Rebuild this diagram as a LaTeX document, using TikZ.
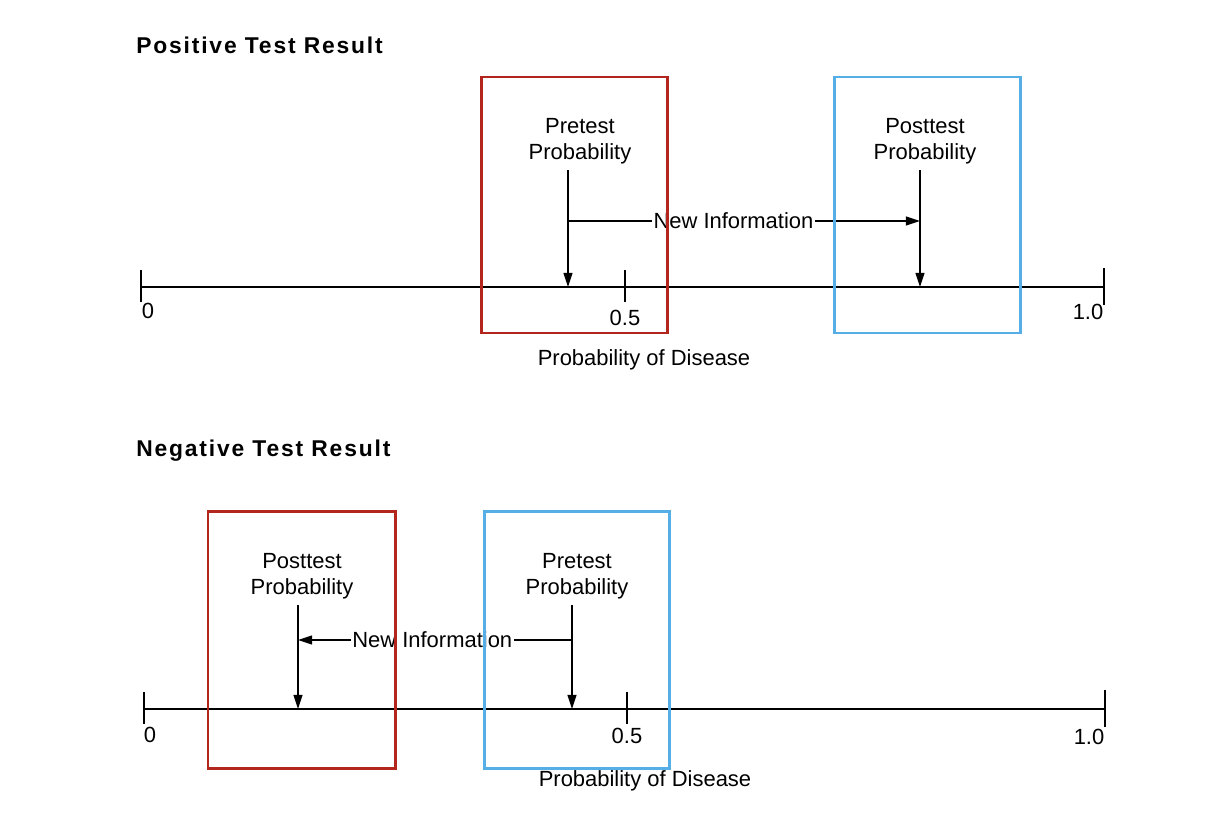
\documentclass[tikz,border=0pt]{standalone}
\usepackage{xcolor}
\usepackage{fontspec}
\setmainfont{Liberation Sans}
\newfontfamily\titlefont[LetterSpace=8]{Liberation Sans}
\usepackage{tikz}
\usetikzlibrary{arrows.meta,positioning,calc}
\definecolor{boxred}{RGB}{178,38,30}
\definecolor{boxblue}{RGB}{86,174,230}
\tikzset{
axis/.style={line width=1.1pt},
tick/.style={line width=1.3pt},
ptr/.style={line width=1pt,-{Triangle[length=8pt,width=5pt]}},
lbl/.style={align=center,font=\fontsize{12.5}{15}\selectfont,inner sep=0pt},
heading/.style={anchor=west,inner sep=0pt,font=\titlefont\bfseries\fontsize{13}{15}\selectfont},
frame/.style={line width=1.7pt}
}
\begin{document}
\begin{tikzpicture}[x=0.02cm,y=-0.02cm]
\useasboundingbox (0,0) rectangle (1226,838);

% positive test
\node[heading] (T1) at (136,45) {Positive Test Result};
\coordinate (O1) at (141,287);
\coordinate (M1) at (625,287);
\coordinate (E1) at (1104,287);
\draw[axis] (O1) -- (E1);
\draw[tick] (O1) ++(0,-17) -- ++(0,32);
\draw[tick] (M1) ++(0,-17) -- ++(0,32);
\draw[tick] (E1) ++(0,-19) -- ++(0,37);
\node[lbl] (zero1) at (148,311) {0};
\node[lbl] (half1) at (625,318) {0.5};
\node[lbl] (one1) at (1088,312) {1.0};
\node[lbl] (xl1) at (644,360) {Probability of Disease};

\node[lbl] (pretxt1) at (580,141) {Pretest\\Probability};
\node[lbl] (posttxt1) at (925,141) {Posttest\\Probability};
\coordinate (pre1) at (568,287);
\coordinate (post1) at (920,287);
\coordinate (pretop1) at (568,170);
\coordinate (posttop1) at (920,170);
\coordinate (prebend1) at (568,221);
\coordinate (postbend1) at (920,221);
\draw[ptr] (pretop1) -- (pre1);
\draw[ptr] (posttop1) -- (post1);
\draw[ptr] (prebend1) -- node[lbl,pos=0.47,fill=white,inner sep=1pt] (new1) {New Information} (postbend1);

\draw[frame,boxred] (481,77) rectangle (667,333);
\draw[frame,boxblue] (834,77) rectangle (1020,333);

% negative test
\node[heading] (T2) at (136,451) {Negative Test Result};
\coordinate (O2) at (144,709);
\coordinate (M2) at (627,709);
\coordinate (E2) at (1105,709);
\draw[axis] (O2) -- (E2);
\draw[tick] (O2) ++(0,-17) -- ++(0,32);
\draw[tick] (M2) ++(0,-17) -- ++(0,32);
\draw[tick] (E2) ++(0,-19) -- ++(0,37);
\node[lbl] (zero2) at (150,735) {0};
\node[lbl] (half2) at (627,736) {0.5};
\node[lbl] (one2) at (1089,737) {1.0};
\node[lbl] (xl2) at (645,781) {Probability of Disease};

\node[lbl] (posttxt2) at (302,576) {Posttest\\Probability};
\node[lbl] (pretxt2) at (577,576) {Pretest\\Probability};
\coordinate (post2) at (298,709);
\coordinate (pre2) at (572,709);
\coordinate (posttop2) at (298,605);
\coordinate (pretop2) at (572,605);
\coordinate (postbend2) at (298,640);
\coordinate (prebend2) at (572,640);
\draw[ptr] (posttop2) -- (post2);
\draw[ptr] (pretop2) -- (pre2);
\draw[ptr] (prebend2) -- node[lbl,pos=0.51,fill=white,inner sep=1pt] (new2) {New Information} (postbend2);

\draw[frame,boxred] (208,511) rectangle (395,768);
\draw[frame,boxblue] (484,511) rectangle (669,768);
\end{tikzpicture}
\end{document}
